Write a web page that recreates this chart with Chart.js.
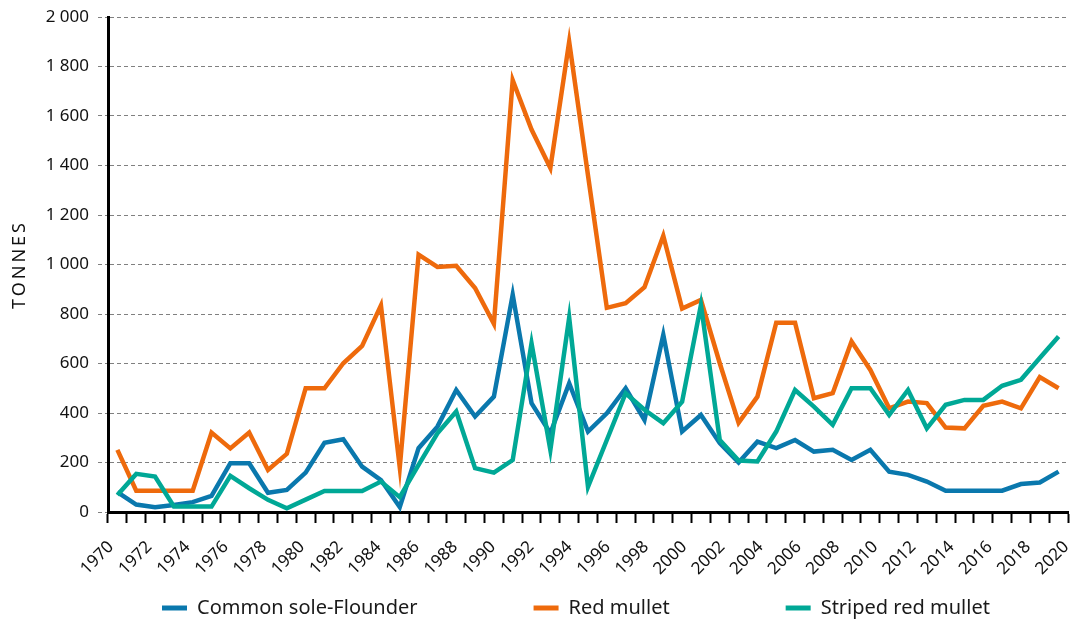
<!DOCTYPE html>
<html>
<head>
<meta charset="utf-8">
<script src="https://cdn.jsdelivr.net/npm/chart.js@4.4.1/dist/chart.umd.min.js"></script>
<style>
  html, body { margin: 0; padding: 0; background: #ffffff; }
  #wrap { width: 1077px; height: 622px; position: relative; }
</style>
</head>
<body>
<div id="wrap"><canvas id="c"></canvas></div>
<script>
// ---------- data ----------
const years = [1970,1971,1972,1973,1974,1975,1976,1977,1978,1979,
               1980,1981,1982,1983,1984,1985,1986,1987,1988,1989,
               1990,1991,1992,1993,1994,1995,1996,1997,1998,1999,
               2000,2001,2002,2003,2004,2005,2006,2007,2008,2009,
               2010,2011,2012,2013,2014,2015,2016,2017,2018,2019,2020];
const tickYears = [1970,1972,1974,1976,1978,1980,1982,1984,1986,1988,
                   1990,1992,1994,1996,1998,2000,2002,2004,2006,2008,
                   2010,2012,2014,2016,2018,2020];
const seriesNames = ['Common sole-Flounder', 'Red mullet', 'Striped red mullet'];
const soleFlounder = [80,30,19,28,40,65,197,197,78,89,
                      159,280,294,183,129,20,258,345,493,386,
                      466,878,440,318,520,325,399,500,372,716,
                      325,392,278,200,284,258,291,244,251,210,
                      251,163,150,123,86,86,86,86,113,119,163];
const redMullet = [251,86,86,86,86,321,257,321,170,235,
                   500,500,601,671,835,180,1040,990,995,905,
                   760,1745,1545,1390,1900,1360,825,844,908,1116,
                   822,857,601,360,466,765,765,460,480,689,
                   574,419,446,440,341,338,429,446,419,545,500];
const stripedRedMullet = [69,154,143,22,22,22,146,96,49,15,
                          50,85,85,85,123,60,190,318,406,177,
                          159,210,682,251,785,102,291,480,413,359,
                          446,837,291,208,204,325,493,426,352,500,
                          500,392,493,338,433,453,453,510,534,622,709];
const yMin = 0, yMax = 2000, yStep = 200;
const yTitle = 'TONNES';

// ---------- style ----------
const FONT = "'Noto Sans', 'Open Sans', sans-serif";
const colors = ['#0a78ad', '#ee6a0c', '#00a896'];
const LEGEND_FONT = 20;
const LEGEND_GAP = 116;
const LEGEND_FIRST_X = 162;
const LEGEND_CENTER_Y = 608;

function fmtThousands(v) {
  if (v >= 1000) {
    return Math.floor(v / 1000) + ' ' + String(v % 1000).padStart(3, '0');
  }
  return String(v);
}

const legendPlacer = {
  id: 'legendPlacer',
  beforeDraw(chart) {
    const lg = chart.legend;
    if (!lg || lg._placed) return;
    lg._placed = true;
    const orig = lg._draw;
    lg._draw = function () {
      const pad = LEGEND_GAP;
      const start = (this.left + pad + this.right - this.lineWidths[0]) / 2;
      const dx = LEGEND_FIRST_X - start;
      const dy = LEGEND_CENTER_Y - (this.top + pad + LEGEND_FONT / 2);
      const ctx = this.ctx;
      ctx.save();
      ctx.translate(dx, dy);
      orig.call(this);
      ctx.restore();
    };
  }
};

const titleSpacing = {
  id: 'titleSpacing',
  beforeDraw(chart) {
    const sc = chart.scales.y;
    if (!sc || sc._spaced) return;
    sc._spaced = true;
    const orig = sc.drawTitle;
    sc.drawTitle = function () {
      const ctx = this.ctx;
      ctx.save();
      try { ctx.letterSpacing = '3px'; } catch (e) {}
      orig.apply(this, arguments);
      ctx.restore();
    };
  }
};

const series = [soleFlounder, redMullet, stripedRedMullet];
const drawOrder = [3, 2, 1];

new Chart(document.getElementById('c'), {
  type: 'line',
  data: {
    labels: years.map(String),
    datasets: series.map((vals, i) => ({
      label: seriesNames[i],
      data: vals,
      borderColor: colors[i],
      backgroundColor: colors[i],
      borderWidth: 4.5,
      pointRadius: 0,
      pointHoverRadius: 0,
      tension: 0,
      fill: false,
      borderJoinStyle: 'miter',
      order: drawOrder[i]
    }))
  },
  options: {
    responsive: true,
    maintainAspectRatio: false,
    animation: false,
    devicePixelRatio: 1,
    layout: { padding: { top: 17, right: 0, bottom: 0, left: 0 } },
    plugins: {
      tooltip: { enabled: false },
      legend: {
        display: true,
        position: 'bottom',
        maxHeight: 41,
        labels: {
          boxWidth: 25,
          boxHeight: 5,
          padding: LEGEND_GAP,
          color: '#1a1a1a',
          font: { family: FONT, size: LEGEND_FONT },
          sort: (a, b) => a.datasetIndex - b.datasetIndex,
          generateLabels(chart) {
            const items = Chart.defaults.plugins.legend.labels.generateLabels(chart);
            items.forEach(it => { it.lineWidth = 0; it.fillStyle = colors[it.datasetIndex]; });
            return items;
          }
        }
      }
    },
    scales: {
      x: {
        type: 'category',
        position: 'bottom',
        weight: 0,
        offset: true,
        grid: {
          display: true,
          offset: true,
          drawOnChartArea: false,
          drawTicks: true,
          tickLength: 11,
          tickWidth: 2,
          tickColor: '#000'
        },
        border: { display: true, color: '#000', width: 3 },
        ticks: { display: false },
        afterFit(s) { s.paddingLeft = 0; s.paddingRight = 9; }
      },
      x2: {
        type: 'linear',
        position: 'bottom',
        weight: 1,
        min: 1969.84,
        max: 2020.1,
        grid: { display: false, drawTicks: false },
        border: { display: false },
        afterBuildTicks(s) { s.ticks = tickYears.map(v => ({ value: v })); },
        ticks: {
          autoSkip: false,
          maxRotation: 45,
          minRotation: 45,
          padding: 14,
          color: '#111',
          font: { family: FONT, size: 17 },
          callback: (v) => String(v)
        },
        afterFit(s) { s.height = 58; s.paddingLeft = 0; s.paddingRight = 9; }
      },
      y: {
        type: 'linear',
        position: 'left',
        min: yMin,
        max: yMax,
        grid: {
          display: true,
          color: '#808080',
          lineWidth: 1,
          drawTicks: true,
          tickLength: 10,
          tickColor: '#808080',
          tickWidth: 1,
          tickBorderDash: [4, 3]
        },
        border: { display: true, color: '#000', width: 3, dash: [4, 3] },
        ticks: {
          stepSize: yStep,
          padding: 9,
          color: '#111',
          font: { family: FONT, size: 17 },
          callback: (v) => fmtThousands(v)
        },
        title: {
          display: true,
          text: yTitle,
          color: '#111',
          font: { family: FONT, size: 18 },
          padding: { top: 9, bottom: 0 }
        },
        afterFit(s) { s.width = 108; s.paddingTop = 0; s.paddingBottom = 0; }
      }
    }
  },
  plugins: [legendPlacer, titleSpacing]
});
</script>
</body>
</html>
